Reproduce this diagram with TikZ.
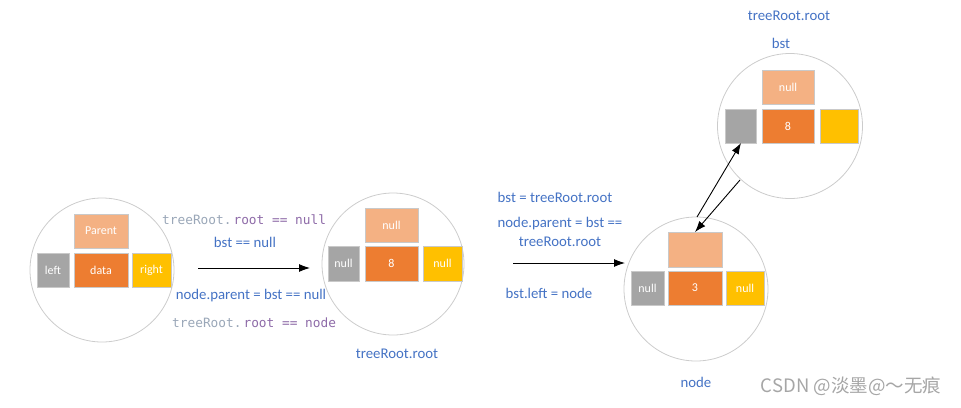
\documentclass[tikz,border=0pt]{standalone}
\usepackage{fontspec}
\setmainfont{Carlito}
\setmonofont{DejaVu Sans Mono}
\newfontfamily\cjk{Noto Sans CJK SC}
\usetikzlibrary{arrows.meta}
\definecolor{lorange}{HTML}{F4B183}
\definecolor{dorange}{HTML}{ED7D31}
\definecolor{mgray}{HTML}{A5A5A5}
\definecolor{myellow}{HTML}{FFC000}
\definecolor{bordc}{HTML}{C9C9C9}
\definecolor{circc}{HTML}{CCCCCC}
\definecolor{tblue}{HTML}{4472C4}
\definecolor{cgray}{HTML}{9AA7B8}
\definecolor{cpurple}{HTML}{8E6BA8}
\tikzset{
  celltxt/.style={text=white, font=\fontsize{12}{13}\selectfont, inner sep=0pt},
  ring/.style={draw=circc, line width=0.8pt, circle, inner sep=0pt},
  lbl/.style={text=tblue, font=\fontsize{14.8}{16}\selectfont, inner sep=0pt, align=center},
  code/.style={font=\ttfamily\fontsize{12.8}{14}\selectfont, inner sep=0pt},
  boxl/.style={fill=lorange, draw=bordc, line width=0.8pt},
  boxd/.style={fill=dorange, draw=bordc, line width=0.8pt},
  boxg/.style={fill=mgray, draw=bordc, line width=0.8pt},
  boxy/.style={fill=myellow, draw=bordc, line width=0.8pt},
  arr/.style={-{Latex[length=11pt,width=8pt]}, line width=0.9pt, black}
}
\begin{document}
\begin{tikzpicture}[x=1pt,y=-1pt]
\useasboundingbox (0,0) rectangle (961,407);

% circle 1
\node[ring, minimum size=144pt] (c1) at (102,270) {};
\path[boxl] (74,214) rectangle (128,248);
\node[celltxt] (c1p) at (101,231) {Parent};
\path[boxg] (37,253) rectangle (69,287);
\node[celltxt] (c1l) at (53,270) {left};
\path[boxd] (74,253) rectangle (128,287);
\node[celltxt] (c1d) at (101,270) {data};
\path[boxy] (132,253) rectangle (171,287);
\node[celltxt] (c1r) at (151.5,270) {right};

% circle 2
\node[ring, minimum size=142pt] (c2) at (393,264) {};
\path[boxl] (365,208) rectangle (418,242);
\node[celltxt] (c2p) at (391.5,225) {null};
\path[boxg] (328,246) rectangle (359,281);
\node[celltxt] (c2l) at (343.5,263.5) {null};
\path[boxd] (365,246) rectangle (418,281);
\node[celltxt] (c2d) at (391.5,263.5) {8};
\path[boxy] (423,246) rectangle (462,281);
\node[celltxt] (c2r) at (442.5,263.5) {null};

% circle 3
\node[ring, minimum size=144pt] (c3) at (696,289) {};
\path[boxl] (668,232) rectangle (722,267);
\coordinate (c3p) at (695,232);
\path[boxg] (631,271) rectangle (664,305);
\node[celltxt] (c3l) at (647.5,288) {null};
\path[boxd] (668,271) rectangle (722,305);
\node[celltxt] (c3d) at (695,288) {3};
\path[boxy] (726,271) rectangle (764,305);
\node[celltxt] (c3r) at (745,288) {null};

% circle 4
\node[ring, minimum size=145pt] (c4) at (790,126) {};
\path[boxl] (762,70) rectangle (814,104);
\node[celltxt] (c4p) at (788,87) {null};
\path[boxg] (725,109) rectangle (756,143);
\coordinate (c4l) at (741,143);
\path[boxd] (762,109) rectangle (814,143);
\node[celltxt] (c4d) at (788,126) {8};
\path[boxy] (820,109) rectangle (858,143);

% arrows
\coordinate (a1s) at (198,268);
\coordinate (a1e) at (310,268);
\draw[arr] (a1s) -- (a1e);
\coordinate (a2s) at (513,263);
\coordinate (a2e) at (625,263);
\draw[arr] (a2s) -- (a2e);
\coordinate (a3s) at (697,217);
\draw[arr] (a3s) -- (c4l);
\coordinate (a4s) at (740,180);
\draw[arr] (a4s) -- (c3p);

% labels between circle 1 and 2
\node[code, anchor=west] (t1) at (162,220) {\textcolor{cgray}{treeRoot.}\hspace{2pt}\textcolor{cpurple}{root == null}};
\node[lbl] (t2) at (245,242) {bst == null};
\node[lbl] (t3) at (251,296) {node.parent = bst == null};
\node[code, anchor=west] (t4) at (172,323) {\textcolor{cgray}{treeRoot.}\hspace{2pt}\textcolor{cpurple}{root == node}};
\node[lbl] (t5) at (397,354) {treeRoot.root};

% labels between circle 2 and 3
\node[lbl] (t6) at (555,197) {bst = treeRoot.root};
\node[lbl] (t7) at (560,224) {node.parent = bst ==};
\node[lbl] (t8) at (560,242) {treeRoot.root};
\node[lbl] (t9) at (549,293) {bst.left = node};
\node[lbl] (t10) at (696,382) {node};

% labels circle 4
\node[lbl] (t11) at (789,16) {treeRoot.root};
\node[lbl] (t12) at (781,43) {bst};

% watermark
\node[text=black!35, font=\cjk\fontsize{18.5}{20}\selectfont, inner sep=0pt] (wm) at (851,386) {CSDN @淡墨@～无痕};
\end{tikzpicture}
\end{document}
